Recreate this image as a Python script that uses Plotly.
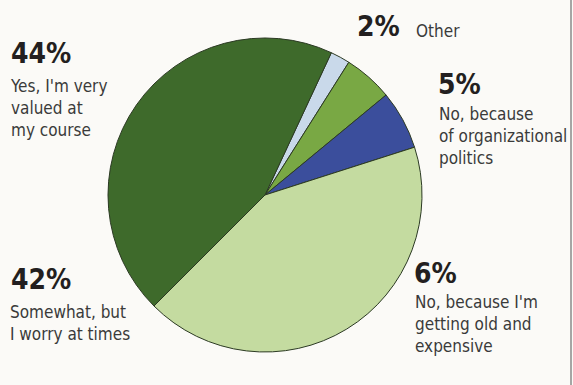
import plotly.graph_objects as go

# Survey answers, clockwise from the top-right
labels = ["Other",
          "No, because of organizational politics",
          "No, because I'm getting old and expensive",
          "Somewhat, but I worry at times",
          "Yes, I'm very valued at my course"]
values = [2, 5, 6, 42, 44]
colors = ["#c9d9ea", "#79a844", "#3b4e9c", "#c4dba0", "#3e6a2b"]

# Caption text for each answer (line breaks as printed)
captions = ["Other",
            "No, because<br>of organizational<br>politics",
            "No, because I'm<br>getting old and<br>expensive",
            "Somewhat, but<br>I worry at times",
            "Yes, I'm very<br>valued at<br>my course"]

W, H = 573, 385
FONT = "DejaVu Sans Condensed, Liberation Sans Narrow, sans-serif"

fig = go.Figure(go.Pie(
    labels=labels,
    values=values,
    sort=False,
    direction="clockwise",
    rotation=25,
    marker=dict(colors=colors, line=dict(color="#2c3a24", width=1)),
    textinfo="none",
    hoverinfo="skip",
    showlegend=False,
    domain=dict(x=[(265 - 157) / W, (265 + 157) / W],
                y=[1 - 352 / H, 1 - 38 / H]),
))

# Label anchor points (pixels): percent position, caption position
placements = {
    "Other": ((355, 8), (414, 19)),
    "No, because of organizational politics": ((436, 66), (437, 102)),
    "No, because I'm getting old and expensive": ((412, 255), (413, 290)),
    "Somewhat, but I worry at times": ((9, 261), (8, 300)),
    "Yes, I'm very valued at my course": ((9, 35), (8, 74)),
}

annotations = []
for lab, val, cap in zip(labels, values, captions):
    (px, py), (cx, cy) = placements[lab]
    annotations.append(dict(
        x=px / W, y=1 - py / H, xref="paper", yref="paper",
        xanchor="left", yanchor="top", showarrow=False,
        text=f"<b>{val}%</b>",
        font=dict(family=FONT, size=28, color="#231f20"),
    ))
    annotations.append(dict(
        x=cx / W, y=1 - cy / H, xref="paper", yref="paper",
        xanchor="left", yanchor="top", showarrow=False, align="left",
        text=cap,
        font=dict(family=FONT, size=17, color="#3a3a3a"),
    ))

fig.update_layout(
    width=W, height=H,
    margin=dict(l=0, r=0, t=0, b=0),
    paper_bgcolor="#fbfaf7",
    plot_bgcolor="#fbfaf7",
    annotations=annotations,
    shapes=[dict(type="line", xref="paper", yref="paper",
                 x0=571 / W, x1=571 / W, y0=0, y1=1,
                 line=dict(color="#8a8a8a", width=1.5))],
)

fig.write_html("out.html")
